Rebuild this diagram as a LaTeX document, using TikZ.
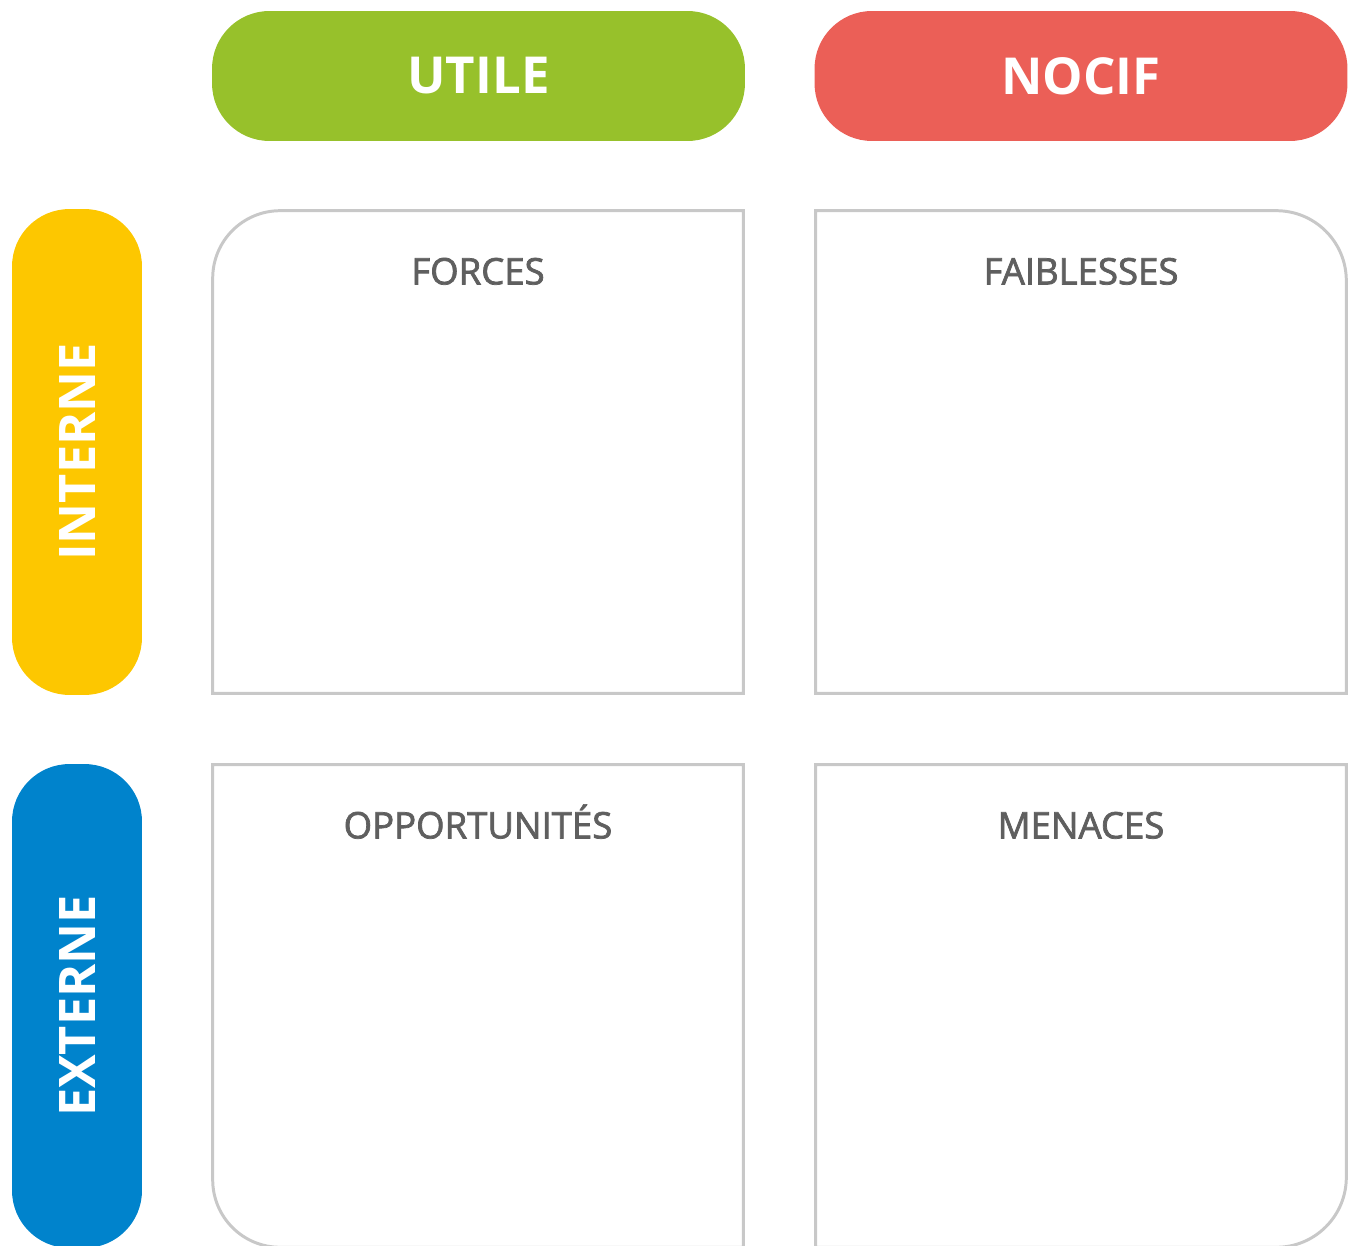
\documentclass[tikz,border=0pt]{standalone}
\usepackage{fontspec}
\setmainfont{Open Sans}
\newfontfamily\semibold[FakeBold=2]{Open Sans}
\definecolor{vert}{HTML}{97C12B}
\definecolor{rouge}{HTML}{EB5F57}
\definecolor{jaune}{HTML}{FDC700}
\definecolor{bleu}{HTML}{0083CC}
\definecolor{trait}{HTML}{C8C8C8}
\definecolor{texte}{HTML}{5F5F5F}
\usetikzlibrary{positioning}

\begin{document}
\begin{tikzpicture}[x=0.02cm,y=-0.02cm,node distance=1cm]

	\tikzset{pill/.style={rectangle, rounded corners=1.15cm, draw=none,
			text=white, font=\bfseries\fontsize{29}{29}\selectfont}}
	\tikzset{pill h/.style={pill, minimum width=10.66cm, minimum height=2.6cm}}
	\tikzset{pill v/.style={pill, minimum height=2.6cm, rotate=90,
			font=\bfseries\fontsize{28.7}{29}\selectfont}}
	\tikzset{quad/.style={rectangle, minimum width=10.6cm, minimum height=9.64cm}}
	\tikzset{cadre/.style={draw=trait, line width=1.7pt}}
	\tikzset{titre/.style={text=texte, text height=0.55cm, text depth=0.1cm,
			font=\semibold\fontsize{20.8}{21}\selectfont}}

	\useasboundingbox (0,0) rectangle (1351,1246);

	% en-tetes
	\node[pill h, fill=vert] (utile) at (478.5,76) {UTILE};
	\node[pill h, fill=rouge] (nocif) at (1081,76) {NOCIF};
	\node[pill v, fill=jaune, minimum width=9.72cm] (interne) at (77,452) {INTERNE};
	\node[pill v, fill=bleu, minimum width=9.68cm] (externe) at (77,1006) {EXTERNE};

	% cases
	\node[quad] (forces) at (478,452) {};
	\node[quad] (faibl) at (1081,452) {};
	\node[quad] (opport) at (478,1006) {};
	\node[quad] (menaces) at (1081,1006) {};

	\draw[cadre] (forces.south east) -- (forces.south west)
		[rounded corners=1.35cm] -- (forces.north west)
		[sharp corners] -- (forces.north east) -- cycle;
	\draw[cadre] (faibl.south west) -- (faibl.north west)
		[rounded corners=1.4cm] -- (faibl.north east)
		[sharp corners] -- (faibl.south east) -- cycle;
	\draw[cadre] (opport.north east) -- (opport.north west)
		[rounded corners=1.35cm] -- (opport.south west)
		[sharp corners] -- (opport.south east) -- cycle;
	\draw[cadre] (menaces.north west) -- (menaces.north east)
		[rounded corners=1.4cm] -- (menaces.south east)
		[sharp corners] -- (menaces.south west) -- cycle;

	\node[titre, below=0.8cm of forces.north] (t1) {FORCES};
	\node[titre, below=0.8cm of faibl.north] (t2) {FAIBLESSES};
	\node[titre, below=0.8cm of opport.north] (t3) {OPPORTUNITÉS};
	\node[titre, below=0.8cm of menaces.north] (t4) {MENACES};
\end{tikzpicture}
\end{document}
